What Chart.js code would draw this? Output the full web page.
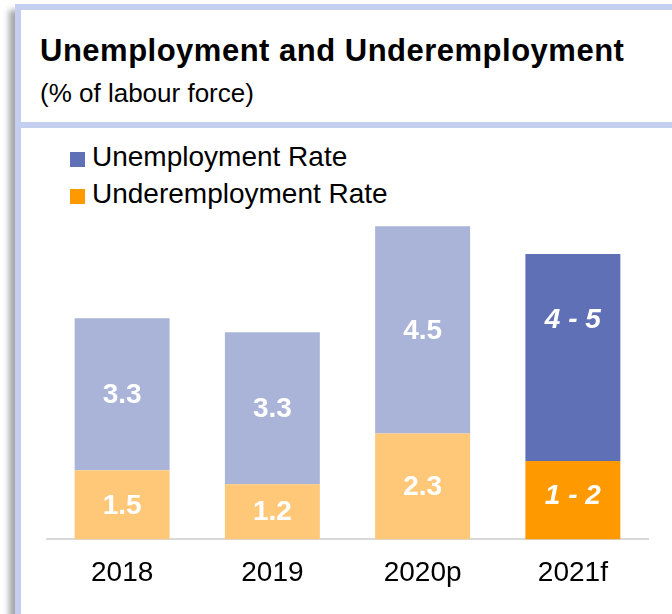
<!DOCTYPE html>
<html>
<head>
<meta charset="utf-8">
<script src="https://cdn.jsdelivr.net/npm/chart.js@4.4.1/dist/chart.umd.min.js"></script>
<style>
html,body{margin:0;padding:0;background:#fff;width:672px;height:614px;overflow:hidden;font-family:"Liberation Sans",Arial,sans-serif;}
#frame{position:absolute;left:15px;top:4px;width:700px;height:700px;border:6px solid #C4CFEF;box-sizing:border-box;box-shadow:-6px 6px 6px rgba(0,0,0,0.35);background:#fff;}
#sep{position:absolute;left:15px;top:122px;width:700px;height:6px;background:#C4CFEF;}
#title{position:absolute;left:40px;top:35px;font-size:31px;line-height:31px;font-weight:bold;letter-spacing:0.5px;color:#000;white-space:nowrap;}
#subtitle{position:absolute;left:40px;top:80px;font-size:26px;line-height:26px;color:#000;white-space:nowrap;}
.lg{position:absolute;left:70px;font-size:28px;line-height:28px;color:#000;white-space:nowrap;}
.lg span.box{position:absolute;left:0;width:15px;height:15px;}
.lg span.txt{position:absolute;left:22px;top:0;}
#chartWrap{position:absolute;left:0;top:0;width:672px;height:614px;}
</style>
</head>
<body>
<div id="frame"></div>
<div id="sep"></div>
<div id="title">Unemployment and Underemployment</div>
<div id="subtitle">(% of labour force)</div>
<div id="legend"></div>
<div id="chartWrap"><canvas id="c" width="672" height="614"></canvas></div>
<script>
const categories = ['2018', '2019', '2020p', '2021f'];
const seriesNames = ['Unemployment Rate', 'Underemployment Rate'];
const unemploymentRate = [3.3, 3.3, 4.5, 4.5];
const underemploymentRate = [1.5, 1.2, 2.3, 1.7];
const unemploymentLabels = ['3.3', '3.3', '4.5', '4 - 5'];
const underemploymentLabels = ['1.5', '1.2', '2.3', '1 - 2'];

const UNEMP_LIGHT = '#AAB4D9', UNEMP_DARK = '#6070B7';
const UNDER_LIGHT = '#FFC879', UNDER_DARK = '#FF9900';
const lastIdx = categories.length - 1;
const colorsFor = (light, dark) => categories.map((c, i) => i === lastIdx ? dark : light);

// HTML legend
const legendEl = document.getElementById('legend');
[[seriesNames[0], UNEMP_DARK, 143], [seriesNames[1], UNDER_DARK, 180]].forEach(([name, col, top]) => {
  const d = document.createElement('div');
  d.className = 'lg';
  d.style.top = top + 'px';
  d.innerHTML = '<span class="box" style="top:9px;background:' + col + '"></span><span class="txt"></span>';
  d.querySelector('.txt').textContent = name;
  legendEl.appendChild(d);
});

const valueLabels = {
  id: 'valueLabels',
  afterDatasetsDraw(chart) {
    const ctx = chart.ctx;
    chart.data.datasets.forEach((ds, i) => {
      const meta = chart.getDatasetMeta(i);
      meta.data.forEach((bar, j) => {
        const forecast = j === lastIdx;
        const p = bar.getProps(['x', 'y', 'base'], true);
        let y = (p.y + p.base) / 2;
        if (forecast) y += (i === 1 ? -38 : -5);
        ctx.save();
        ctx.fillStyle = '#fff';
        ctx.font = (forecast ? 'italic ' : '') + 'bold 28px "Liberation Sans", Arial, sans-serif';
        ctx.textAlign = 'center';
        ctx.textBaseline = 'middle';
        ctx.fillText(ds.valueText[j], p.x, y + 1);
        ctx.restore();
      });
    });
  }
};

new Chart(document.getElementById('c'), {
  type: 'bar',
  data: {
    labels: categories,
    datasets: [
      { label: seriesNames[1], data: underemploymentRate, valueText: underemploymentLabels,
        backgroundColor: colorsFor(UNDER_LIGHT, UNDER_DARK), borderWidth: 0,
        barPercentage: 0.632, categoryPercentage: 1 },
      { label: seriesNames[0], data: unemploymentRate, valueText: unemploymentLabels,
        backgroundColor: colorsFor(UNEMP_LIGHT, UNEMP_DARK), borderWidth: 0,
        barPercentage: 0.632, categoryPercentage: 1 }
    ]
  },
  options: {
    responsive: false,
    animation: false,
    devicePixelRatio: 1,
    layout: { padding: { left: 47, right: 24, top: 171, bottom: 7 } },
    plugins: { legend: { display: false }, tooltip: { enabled: false }, title: { display: false } },
    scales: {
      x: {
        stacked: true,
        grid: { display: false, drawTicks: false },
        border: { display: true, color: '#D9D9D9', width: 2 },
        ticks: { color: '#000', padding: 17, font: { family: '"Liberation Sans", Arial, sans-serif', size: 28 } }
      },
      y: {
        stacked: true, display: false, min: 0, max: 8,
        grid: { display: false }
      }
    }
  },
  plugins: [valueLabels]
});
</script>
</body>
</html>
